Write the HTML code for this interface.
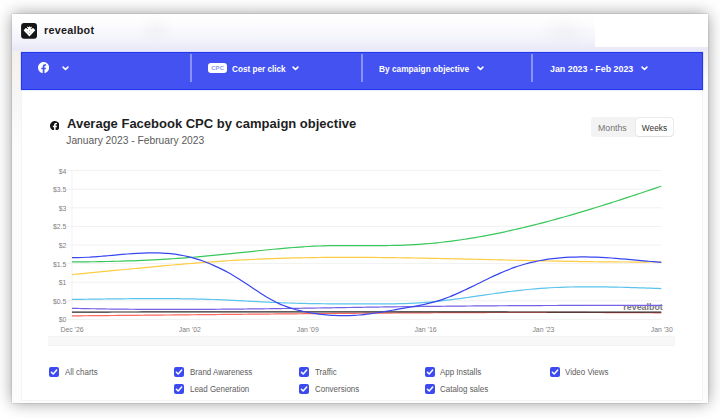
<!DOCTYPE html>
<html><head><meta charset="utf-8"><style>
*{margin:0;padding:0;box-sizing:border-box}
html,body{width:720px;height:418px;overflow:hidden;background:#fff}
body{position:relative;font-family:"Liberation Sans",Arial,sans-serif}
.abs{position:absolute}
.card{position:absolute;left:12px;top:14px;width:696px;height:388.5px;background:#fcfcfc;
 box-shadow:0 0 1.5px rgba(0,0,0,.25),0 0 15px rgba(0,0,0,.40);}
.hdr{position:absolute;left:12px;top:14px;width:696px;height:37.5px;background:linear-gradient(#fff 0%,#fcfcfe 30%,#f1f1fa 75%,#e8e8f8 94%,#f2f2fb 100%)}
.hdrw{position:absolute;left:595px;top:14px;width:113px;height:33px;background:#fff}
.blob{position:absolute;border-radius:50%;background:radial-gradient(closest-side,rgba(0,0,0,.028),rgba(0,0,0,0))}
.side{position:absolute;left:12px;top:51px;width:9px;height:90px;background:linear-gradient(#f3efec,#fcfcfc)}
.panel{position:absolute;left:21px;top:90px;width:681.5px;height:310.5px;background:#fff;border:1px solid #f4f4f4;border-top:none}
.bar{position:absolute;left:21px;top:51.5px;width:681.5px;height:38.8px;background:#4452f1;border:1px solid #2238ec;box-shadow:0 0 1.2px rgba(30,50,236,.5)}
.div{position:absolute;top:54px;width:2px;height:28.2px;background:#8a93f4}
.nt{position:absolute;color:#fff;font-weight:bold;font-size:9.4px;white-space:nowrap;line-height:1;transform-origin:0 0}
.cpc{position:absolute;left:208px;top:62.7px;width:19.3px;height:10.6px;background:#fff;border-radius:3px;color:#8f99f2;font-size:6px;line-height:10.6px;font-weight:bold;text-align:center;letter-spacing:0.1px}
.logo{position:absolute;left:21px;top:23px}
.brand{position:absolute;left:44px;top:24.9px;font-size:10.8px;letter-spacing:0.25px;font-weight:bold;color:#1b1b1b;line-height:1}
.title{position:absolute;left:67px;top:117px;font-size:13px;font-weight:bold;color:#1e1e1e;line-height:1;white-space:nowrap}
.sub{position:absolute;left:66.3px;top:136px;font-size:10.25px;color:#5a5a5a;line-height:1;white-space:nowrap}
.tog{position:absolute;left:591px;top:117px;width:82.5px;height:20px;background:#f3f3f3;border-radius:4px}
.togw{position:absolute;left:635.8px;top:118.3px;width:37px;height:17.4px;background:#fff;border-radius:3.5px;box-shadow:0 0 0 0.6px #e4e4e4,0 0.5px 1px rgba(0,0,0,.08)}
.tt{position:absolute;font-size:8.5px;line-height:1;white-space:nowrap}
.chart{position:absolute;left:0;top:0}
.cb{position:absolute;width:10px;height:10px;line-height:0}
.lt{position:absolute;font-size:8.4px;color:#5c5c5c;line-height:10px;white-space:nowrap;transform:scaleX(0.95);transform-origin:0 0}
</style></head><body>
<div class="card"></div>
<div class="hdr"></div>
<div class="hdrw"></div>
<div class="side"></div>
<div class="abs" style="left:702.5px;top:51px;width:5.5px;height:24px;background:linear-gradient(#f3efec,#fbfbfb)"></div>
<div class="blob" style="left:136px;top:14px;width:40px;height:30px"></div>
<div class="blob" style="left:538px;top:14px;width:54px;height:34px"></div>
<div class="panel"></div>
<div class="logo"><svg width="16" height="16" viewBox="0 0 16 16"><rect x="0.1" y="0.1" width="15.9" height="15.7" rx="3" fill="#161616"/>
<path d="M2.6 7.4 L4.6 5.1 L5.7 5.6 L6.5 3.5 L7.6 4.3 L8.47 3.2 L9.35 4.3 L10.4 3.5 L11.2 5.6 L12.3 5.1 L14.3 7.3 L8.47 13.4 Z" fill="#fff"/>
<g fill="#161616"><path d="M6.5 4.75 L7.15 5.45 L6.5 6.15 L5.85 5.45 Z"/><path d="M10.3 4.75 L10.95 5.45 L10.3 6.15 L9.65 5.45 Z"/></g>
<g fill="#5a5a5a"><path d="M8.47 6.75 L9.05 7.3 L8.47 7.85 L7.9 7.3 Z"/><path d="M8.47 10 L9 10.55 L8.47 11.1 L7.95 10.55 Z"/></g>
<g fill="#9a9a9a"><path d="M6.5 8.35 L7 8.9 L6.5 9.45 L6 8.9 Z"/><path d="M10 8.35 L10.5 8.9 L10 9.45 L9.5 8.9 Z"/></g></svg></div>
<div class="brand">revealbot</div>
<div class="bar"></div>
<div class="div" style="left:189.8px"></div>
<div class="div" style="left:360.6px"></div>
<div class="div" style="left:531px"></div>
<div class="abs" style="left:37.9px;top:62.3px;line-height:0"><svg width="11.2" height="11.2" viewBox="0 0 24 24"><path d="M24 12.073C24 5.405 18.627 0 12 0S0 5.405 0 12.073C0 18.1 4.388 23.094 10.125 24v-8.437H7.078v-3.49h3.047V9.413c0-3.026 1.792-4.697 4.533-4.697 1.312 0 2.686.236 2.686.236v2.971H15.83c-1.491 0-1.956.93-1.956 1.886v2.264h3.328l-.532 3.49h-2.796V24C19.612 23.094 24 18.1 24 12.073z" fill="#fff"/></svg></div>
<div class="abs" style="left:62.4px;top:65.7px;line-height:0"><svg width="7" height="5" viewBox="0 0 7 5"><path d="M1.1 1.1 L3.5 3.5 L5.9 1.1" stroke="#fff" stroke-width="1.6" fill="none" stroke-linecap="round" stroke-linejoin="round"/></svg></div>
<div class="cpc">CPC</div>
<div class="nt" style="left:232.2px;top:63.6px;transform:scaleX(0.873)">Cost per click</div>
<div class="abs" style="left:292.2px;top:65.8px;line-height:0"><svg width="7" height="5" viewBox="0 0 7 5"><path d="M1.1 1.1 L3.5 3.5 L5.9 1.1" stroke="#fff" stroke-width="1.6" fill="none" stroke-linecap="round" stroke-linejoin="round"/></svg></div>
<div class="nt" style="left:378.5px;top:63.6px;transform:scaleX(0.886)">By campaign objective</div>
<div class="abs" style="left:477px;top:65.5px;line-height:0"><svg width="7" height="5" viewBox="0 0 7 5"><path d="M1.1 1.1 L3.5 3.5 L5.9 1.1" stroke="#fff" stroke-width="1.6" fill="none" stroke-linecap="round" stroke-linejoin="round"/></svg></div>
<div class="nt" style="left:549.8px;top:63.6px;transform:scaleX(0.945)">Jan 2023 - Feb 2023</div>
<div class="abs" style="left:641.4px;top:65.5px;line-height:0"><svg width="7" height="5" viewBox="0 0 7 5"><path d="M1.1 1.1 L3.5 3.5 L5.9 1.1" stroke="#fff" stroke-width="1.6" fill="none" stroke-linecap="round" stroke-linejoin="round"/></svg></div>
<div class="abs" style="left:49.6px;top:120.5px;line-height:0"><svg width="9.7" height="9.7" viewBox="0 0 24 24"><path d="M24 12.073C24 5.405 18.627 0 12 0S0 5.405 0 12.073C0 18.1 4.388 23.094 10.125 24v-8.437H7.078v-3.49h3.047V9.413c0-3.026 1.792-4.697 4.533-4.697 1.312 0 2.686.236 2.686.236v2.971H15.83c-1.491 0-1.956.93-1.956 1.886v2.264h3.328l-.532 3.49h-2.796V24C19.612 23.094 24 18.1 24 12.073z" fill="#141414"/></svg></div>
<div class="title">Average Facebook CPC by campaign objective</div>
<div class="sub">January 2023 - February 2023</div>
<div class="tog"></div>
<div class="togw"></div>
<div class="tt" style="left:598px;top:123.5px;color:#737373;font-size:8.75px">Months</div>
<div class="tt" style="left:641.8px;top:123.6px;color:#303030;font-size:8.35px">Weeks</div>
<svg class="chart" width="720" height="418" viewBox="0 0 720 418">
<g><line x1="67" y1="319.40" x2="661.5" y2="319.40" stroke="#f1f1f1" stroke-width="1"/><line x1="67" y1="300.80" x2="661.5" y2="300.80" stroke="#f1f1f1" stroke-width="1"/><line x1="67" y1="282.20" x2="661.5" y2="282.20" stroke="#f1f1f1" stroke-width="1"/><line x1="67" y1="263.60" x2="661.5" y2="263.60" stroke="#f1f1f1" stroke-width="1"/><line x1="67" y1="245.00" x2="661.5" y2="245.00" stroke="#f1f1f1" stroke-width="1"/><line x1="67" y1="226.40" x2="661.5" y2="226.40" stroke="#f1f1f1" stroke-width="1"/><line x1="67" y1="207.80" x2="661.5" y2="207.80" stroke="#f1f1f1" stroke-width="1"/><line x1="67" y1="189.20" x2="661.5" y2="189.20" stroke="#f1f1f1" stroke-width="1"/><line x1="67" y1="170.60" x2="661.5" y2="170.60" stroke="#f1f1f1" stroke-width="1"/></g>
<line x1="72" y1="170.4" x2="72" y2="319.4" stroke="#f1f1f1" stroke-width="1"/>
<g font-family="Liberation Sans, Arial, sans-serif" font-size="6.9" fill="#808080"><text x="66.3" y="322.30" text-anchor="end">$0</text><text x="66.3" y="303.70" text-anchor="end">$0.5</text><text x="66.3" y="285.10" text-anchor="end">$1</text><text x="66.3" y="266.50" text-anchor="end">$1.5</text><text x="66.3" y="247.90" text-anchor="end">$2</text><text x="66.3" y="229.30" text-anchor="end">$2.5</text><text x="66.3" y="210.70" text-anchor="end">$3</text><text x="66.3" y="192.10" text-anchor="end">$3.5</text><text x="66.3" y="173.50" text-anchor="end">$4</text></g>
<g font-family="Liberation Sans, Arial, sans-serif" font-size="6.9" fill="#808080"><text x="72.00" y="331.9" text-anchor="middle">Dec '26</text><text x="189.86" y="331.9" text-anchor="middle">Jan '02</text><text x="307.72" y="331.9" text-anchor="middle">Jan '09</text><text x="425.58" y="331.9" text-anchor="middle">Jan '16</text><text x="543.44" y="331.9" text-anchor="middle">Jan '23</text><text x="672.8" y="331.9" text-anchor="end">Jan '30</text></g>
<rect x="49" y="336.3" width="625.3" height="9.2" fill="#f8f8f8" stroke="#f0f0f0" stroke-width="0.8"/>
<text x="662.8" y="309.6" text-anchor="end" font-family="Liberation Sans, Arial, sans-serif" font-weight="bold" font-size="8.9" fill="#7a7a7a">revealbot</text>
<g><path d="M72.00,315.86 C72.84,315.85 75.36,315.83 77.04,315.82 C78.72,315.80 80.39,315.79 82.07,315.78 C83.75,315.76 85.43,315.75 87.11,315.73 C88.79,315.72 90.47,315.70 92.15,315.69 C93.83,315.68 95.50,315.66 97.18,315.65 C98.86,315.63 100.54,315.62 102.22,315.60 C103.90,315.59 105.58,315.57 107.26,315.56 C108.94,315.54 110.62,315.53 112.29,315.51 C113.97,315.50 115.65,315.48 117.33,315.47 C119.01,315.45 120.69,315.44 122.37,315.42 C124.05,315.41 125.73,315.39 127.40,315.38 C129.08,315.36 130.76,315.35 132.44,315.33 C134.12,315.32 135.80,315.30 137.48,315.28 C139.16,315.27 140.84,315.25 142.51,315.24 C144.19,315.22 145.87,315.21 147.55,315.19 C149.23,315.18 150.91,315.16 152.59,315.14 C154.27,315.13 155.95,315.11 157.62,315.10 C159.30,315.08 160.98,315.06 162.66,315.05 C164.34,315.03 166.02,315.02 167.70,315.00 C169.38,314.98 171.06,314.97 172.74,314.95 C174.41,314.94 176.09,314.92 177.77,314.90 C179.45,314.89 181.13,314.87 182.81,314.86 C184.49,314.84 186.17,314.82 187.85,314.81 C189.52,314.79 191.20,314.77 192.88,314.76 C194.56,314.74 196.24,314.73 197.92,314.71 C199.60,314.69 201.28,314.68 202.96,314.66 C204.63,314.65 206.31,314.63 207.99,314.61 C209.67,314.60 211.35,314.58 213.03,314.56 C214.71,314.55 216.39,314.53 218.07,314.52 C219.74,314.50 221.42,314.48 223.10,314.47 C224.78,314.45 226.46,314.43 228.14,314.42 C229.82,314.40 231.50,314.39 233.18,314.37 C234.85,314.35 236.53,314.34 238.21,314.32 C239.89,314.31 241.57,314.29 243.25,314.27 C244.93,314.26 246.61,314.24 248.29,314.22 C249.97,314.21 251.64,314.19 253.32,314.18 C255.00,314.16 256.68,314.15 258.36,314.13 C260.04,314.11 261.72,314.10 263.40,314.08 C265.08,314.07 266.75,314.05 268.43,314.03 C270.11,314.02 271.79,314.00 273.47,313.99 C275.15,313.97 276.83,313.96 278.51,313.94 C280.19,313.93 281.86,313.91 283.54,313.89 C285.22,313.88 286.90,313.86 288.58,313.85 C290.26,313.83 291.94,313.82 293.62,313.80 C295.30,313.79 296.97,313.77 298.65,313.76 C300.33,313.74 302.01,313.73 303.69,313.71 C305.37,313.70 307.05,313.68 308.73,313.67 C310.41,313.65 312.09,313.64 313.76,313.62 C315.44,313.61 317.12,313.59 318.80,313.58 C320.48,313.56 322.16,313.55 323.84,313.54 C325.52,313.52 327.20,313.51 328.87,313.49 C330.55,313.48 332.23,313.47 333.91,313.45 C335.59,313.44 337.27,313.42 338.95,313.41 C340.63,313.40 342.31,313.38 343.98,313.37 C345.66,313.35 347.34,313.34 349.02,313.33 C350.70,313.31 352.38,313.30 354.06,313.29 C355.74,313.27 357.42,313.26 359.09,313.25 C360.77,313.24 362.45,313.22 364.13,313.21 C365.81,313.20 367.49,313.18 369.17,313.17 C370.85,313.16 372.53,313.15 374.21,313.13 C375.88,313.12 377.56,313.11 379.24,313.10 C380.92,313.09 382.60,313.07 384.28,313.06 C385.96,313.05 387.64,313.04 389.32,313.03 C390.99,313.02 392.67,313.00 394.35,312.99 C396.03,312.98 397.71,312.97 399.39,312.96 C401.07,312.95 402.75,312.94 404.43,312.93 C406.10,312.92 407.78,312.90 409.46,312.89 C411.14,312.88 412.82,312.87 414.50,312.86 C416.18,312.85 417.86,312.84 419.54,312.83 C421.21,312.82 422.89,312.81 424.57,312.80 C426.25,312.79 427.93,312.78 429.61,312.78 C431.29,312.77 432.97,312.76 434.65,312.75 C436.33,312.74 438.00,312.73 439.68,312.72 C441.36,312.71 443.04,312.70 444.72,312.70 C446.40,312.69 448.08,312.68 449.76,312.67 C451.44,312.66 453.11,312.66 454.79,312.65 C456.47,312.64 458.15,312.63 459.83,312.63 C461.51,312.62 463.19,312.61 464.87,312.60 C466.55,312.60 468.22,312.59 469.90,312.58 C471.58,312.58 473.26,312.57 474.94,312.57 C476.62,312.56 478.30,312.55 479.98,312.55 C481.66,312.54 483.33,312.54 485.01,312.53 C486.69,312.53 488.37,312.52 490.05,312.51 C491.73,312.51 493.41,312.51 495.09,312.50 C496.77,312.50 498.45,312.49 500.12,312.49 C501.80,312.48 503.48,312.48 505.16,312.48 C506.84,312.47 508.52,312.47 510.20,312.46 C511.88,312.46 513.56,312.46 515.23,312.46 C516.91,312.45 518.59,312.45 520.27,312.45 C521.95,312.44 523.63,312.44 525.31,312.44 C526.99,312.44 528.67,312.44 530.34,312.44 C532.02,312.43 533.70,312.43 535.38,312.43 C537.06,312.43 538.74,312.43 540.42,312.43 C542.10,312.43 543.78,312.43 545.45,312.43 C547.13,312.43 548.81,312.43 550.49,312.43 C552.17,312.43 553.85,312.43 555.53,312.43 C557.21,312.43 558.89,312.43 560.56,312.43 C562.24,312.43 563.92,312.44 565.60,312.44 C567.28,312.44 568.96,312.44 570.64,312.44 C572.32,312.45 574.00,312.45 575.68,312.45 C577.35,312.45 579.03,312.46 580.71,312.46 C582.39,312.46 584.07,312.47 585.75,312.47 C587.43,312.48 589.11,312.48 590.79,312.48 C592.46,312.49 594.14,312.49 595.82,312.50 C597.50,312.50 599.18,312.51 600.86,312.51 C602.54,312.52 604.22,312.53 605.90,312.53 C607.57,312.54 609.25,312.54 610.93,312.55 C612.61,312.56 614.29,312.56 615.97,312.57 C617.65,312.58 619.33,312.59 621.01,312.59 C622.68,312.60 624.36,312.61 626.04,312.62 C627.72,312.63 629.40,312.64 631.08,312.65 C632.76,312.65 634.44,312.66 636.12,312.67 C637.80,312.68 639.47,312.69 641.15,312.70 C642.83,312.71 644.51,312.72 646.19,312.73 C647.87,312.75 649.55,312.76 651.23,312.77 C652.91,312.78 654.58,312.79 656.26,312.80 C657.94,312.82 660.46,312.84 661.30,312.84" stroke="#ff665c" stroke-width="1.2" fill="none" stroke-linecap="butt" stroke-linejoin="round"/><path d="M72.00,312.11 C72.84,312.10 75.36,312.10 77.04,312.09 C78.72,312.09 80.39,312.09 82.07,312.08 C83.75,312.08 85.43,312.08 87.11,312.07 C88.79,312.07 90.47,312.07 92.15,312.06 C93.83,312.06 95.50,312.06 97.18,312.05 C98.86,312.05 100.54,312.05 102.22,312.04 C103.90,312.04 105.58,312.04 107.26,312.03 C108.94,312.03 110.62,312.03 112.29,312.02 C113.97,312.02 115.65,312.02 117.33,312.01 C119.01,312.01 120.69,312.01 122.37,312.00 C124.05,312.00 125.73,312.00 127.40,312.00 C129.08,311.99 130.76,311.99 132.44,311.99 C134.12,311.99 135.80,311.98 137.48,311.98 C139.16,311.98 140.84,311.97 142.51,311.97 C144.19,311.97 145.87,311.97 147.55,311.96 C149.23,311.96 150.91,311.96 152.59,311.96 C154.27,311.95 155.95,311.95 157.62,311.95 C159.30,311.95 160.98,311.95 162.66,311.94 C164.34,311.94 166.02,311.94 167.70,311.94 C169.38,311.93 171.06,311.93 172.74,311.93 C174.41,311.93 176.09,311.93 177.77,311.92 C179.45,311.92 181.13,311.92 182.81,311.92 C184.49,311.92 186.17,311.91 187.85,311.91 C189.52,311.91 191.20,311.91 192.88,311.91 C194.56,311.91 196.24,311.90 197.92,311.90 C199.60,311.90 201.28,311.90 202.96,311.90 C204.63,311.90 206.31,311.89 207.99,311.89 C209.67,311.89 211.35,311.89 213.03,311.89 C214.71,311.89 216.39,311.89 218.07,311.88 C219.74,311.88 221.42,311.88 223.10,311.88 C224.78,311.88 226.46,311.88 228.14,311.88 C229.82,311.88 231.50,311.87 233.18,311.87 C234.85,311.87 236.53,311.87 238.21,311.87 C239.89,311.87 241.57,311.87 243.25,311.87 C244.93,311.87 246.61,311.87 248.29,311.86 C249.97,311.86 251.64,311.86 253.32,311.86 C255.00,311.86 256.68,311.86 258.36,311.86 C260.04,311.86 261.72,311.86 263.40,311.86 C265.08,311.86 266.75,311.86 268.43,311.86 C270.11,311.85 271.79,311.85 273.47,311.85 C275.15,311.85 276.83,311.85 278.51,311.85 C280.19,311.85 281.86,311.85 283.54,311.85 C285.22,311.85 286.90,311.85 288.58,311.85 C290.26,311.85 291.94,311.85 293.62,311.85 C295.30,311.85 296.97,311.85 298.65,311.85 C300.33,311.85 302.01,311.85 303.69,311.85 C305.37,311.85 307.05,311.85 308.73,311.85 C310.41,311.85 312.09,311.85 313.76,311.85 C315.44,311.85 317.12,311.85 318.80,311.85 C320.48,311.85 322.16,311.85 323.84,311.85 C325.52,311.85 327.20,311.85 328.87,311.85 C330.55,311.85 332.23,311.85 333.91,311.85 C335.59,311.85 337.27,311.85 338.95,311.85 C340.63,311.85 342.31,311.85 343.98,311.85 C345.66,311.85 347.34,311.85 349.02,311.85 C350.70,311.85 352.38,311.85 354.06,311.85 C355.74,311.85 357.42,311.85 359.09,311.86 C360.77,311.86 362.45,311.86 364.13,311.86 C365.81,311.86 367.49,311.86 369.17,311.86 C370.85,311.86 372.53,311.86 374.21,311.86 C375.88,311.86 377.56,311.86 379.24,311.86 C380.92,311.86 382.60,311.86 384.28,311.87 C385.96,311.87 387.64,311.87 389.32,311.87 C390.99,311.87 392.67,311.87 394.35,311.87 C396.03,311.87 397.71,311.87 399.39,311.87 C401.07,311.87 402.75,311.88 404.43,311.88 C406.10,311.88 407.78,311.88 409.46,311.88 C411.14,311.88 412.82,311.88 414.50,311.88 C416.18,311.88 417.86,311.89 419.54,311.89 C421.21,311.89 422.89,311.89 424.57,311.89 C426.25,311.89 427.93,311.89 429.61,311.89 C431.29,311.90 432.97,311.90 434.65,311.90 C436.33,311.90 438.00,311.90 439.68,311.90 C441.36,311.90 443.04,311.91 444.72,311.91 C446.40,311.91 448.08,311.91 449.76,311.91 C451.44,311.91 453.11,311.92 454.79,311.92 C456.47,311.92 458.15,311.92 459.83,311.92 C461.51,311.92 463.19,311.92 464.87,311.93 C466.55,311.93 468.22,311.93 469.90,311.93 C471.58,311.93 473.26,311.93 474.94,311.94 C476.62,311.94 478.30,311.94 479.98,311.94 C481.66,311.94 483.33,311.95 485.01,311.95 C486.69,311.95 488.37,311.95 490.05,311.95 C491.73,311.95 493.41,311.96 495.09,311.96 C496.77,311.96 498.45,311.96 500.12,311.96 C501.80,311.97 503.48,311.97 505.16,311.97 C506.84,311.97 508.52,311.97 510.20,311.98 C511.88,311.98 513.56,311.98 515.23,311.98 C516.91,311.98 518.59,311.99 520.27,311.99 C521.95,311.99 523.63,311.99 525.31,312.00 C526.99,312.00 528.67,312.00 530.34,312.00 C532.02,312.00 533.70,312.01 535.38,312.01 C537.06,312.01 538.74,312.01 540.42,312.02 C542.10,312.02 543.78,312.02 545.45,312.02 C547.13,312.02 548.81,312.03 550.49,312.03 C552.17,312.03 553.85,312.03 555.53,312.04 C557.21,312.04 558.89,312.04 560.56,312.04 C562.24,312.05 563.92,312.05 565.60,312.05 C567.28,312.05 568.96,312.06 570.64,312.06 C572.32,312.06 574.00,312.06 575.68,312.07 C577.35,312.07 579.03,312.07 580.71,312.07 C582.39,312.08 584.07,312.08 585.75,312.08 C587.43,312.08 589.11,312.09 590.79,312.09 C592.46,312.09 594.14,312.09 595.82,312.10 C597.50,312.10 599.18,312.10 600.86,312.11 C602.54,312.11 604.22,312.11 605.90,312.11 C607.57,312.12 609.25,312.12 610.93,312.12 C612.61,312.12 614.29,312.13 615.97,312.13 C617.65,312.13 619.33,312.13 621.01,312.14 C622.68,312.14 624.36,312.14 626.04,312.15 C627.72,312.15 629.40,312.15 631.08,312.15 C632.76,312.16 634.44,312.16 636.12,312.16 C637.80,312.17 639.47,312.17 641.15,312.17 C642.83,312.17 644.51,312.18 646.19,312.18 C647.87,312.18 649.55,312.19 651.23,312.19 C652.91,312.19 654.58,312.20 656.26,312.20 C657.94,312.20 660.46,312.21 661.30,312.21" stroke="#2a2a2a" stroke-width="1.2" fill="none" stroke-linecap="butt" stroke-linejoin="round"/><path d="M72.00,308.30 C72.84,308.32 75.36,308.38 77.04,308.42 C78.72,308.46 80.39,308.49 82.07,308.53 C83.75,308.56 85.43,308.60 87.11,308.63 C88.79,308.67 90.47,308.70 92.15,308.73 C93.83,308.76 95.50,308.79 97.18,308.82 C98.86,308.85 100.54,308.87 102.22,308.90 C103.90,308.93 105.58,308.95 107.26,308.98 C108.94,309.00 110.62,309.02 112.29,309.05 C113.97,309.07 115.65,309.09 117.33,309.11 C119.01,309.13 120.69,309.15 122.37,309.17 C124.05,309.18 125.73,309.20 127.40,309.22 C129.08,309.23 130.76,309.25 132.44,309.26 C134.12,309.28 135.80,309.29 137.48,309.30 C139.16,309.31 140.84,309.33 142.51,309.34 C144.19,309.35 145.87,309.36 147.55,309.36 C149.23,309.37 150.91,309.38 152.59,309.39 C154.27,309.39 155.95,309.40 157.62,309.40 C159.30,309.41 160.98,309.41 162.66,309.42 C164.34,309.42 166.02,309.42 167.70,309.42 C169.38,309.43 171.06,309.43 172.74,309.43 C174.41,309.43 176.09,309.43 177.77,309.43 C179.45,309.42 181.13,309.42 182.81,309.42 C184.49,309.42 186.17,309.41 187.85,309.41 C189.52,309.40 191.20,309.40 192.88,309.39 C194.56,309.39 196.24,309.38 197.92,309.37 C199.60,309.36 201.28,309.36 202.96,309.35 C204.63,309.34 206.31,309.33 207.99,309.32 C209.67,309.31 211.35,309.30 213.03,309.29 C214.71,309.28 216.39,309.27 218.07,309.25 C219.74,309.24 221.42,309.23 223.10,309.21 C224.78,309.20 226.46,309.19 228.14,309.17 C229.82,309.16 231.50,309.14 233.18,309.13 C234.85,309.11 236.53,309.10 238.21,309.08 C239.89,309.06 241.57,309.04 243.25,309.03 C244.93,309.01 246.61,308.99 248.29,308.97 C249.97,308.95 251.64,308.93 253.32,308.92 C255.00,308.90 256.68,308.88 258.36,308.86 C260.04,308.84 261.72,308.81 263.40,308.79 C265.08,308.77 266.75,308.75 268.43,308.73 C270.11,308.71 271.79,308.68 273.47,308.66 C275.15,308.64 276.83,308.62 278.51,308.59 C280.19,308.57 281.86,308.55 283.54,308.52 C285.22,308.50 286.90,308.47 288.58,308.45 C290.26,308.42 291.94,308.40 293.62,308.37 C295.30,308.35 296.97,308.32 298.65,308.30 C300.33,308.27 302.01,308.25 303.69,308.22 C305.37,308.20 307.05,308.17 308.73,308.14 C310.41,308.12 312.09,308.09 313.76,308.06 C315.44,308.04 317.12,308.01 318.80,307.98 C320.48,307.96 322.16,307.93 323.84,307.90 C325.52,307.88 327.20,307.85 328.87,307.82 C330.55,307.79 332.23,307.77 333.91,307.74 C335.59,307.71 337.27,307.69 338.95,307.66 C340.63,307.63 342.31,307.61 343.98,307.58 C345.66,307.55 347.34,307.52 349.02,307.50 C350.70,307.47 352.38,307.44 354.06,307.42 C355.74,307.39 357.42,307.36 359.09,307.34 C360.77,307.31 362.45,307.29 364.13,307.26 C365.81,307.23 367.49,307.21 369.17,307.18 C370.85,307.16 372.53,307.13 374.21,307.11 C375.88,307.08 377.56,307.06 379.24,307.03 C380.92,307.01 382.60,306.99 384.28,306.96 C385.96,306.94 387.64,306.91 389.32,306.89 C390.99,306.87 392.67,306.85 394.35,306.82 C396.03,306.80 397.71,306.78 399.39,306.76 C401.07,306.73 402.75,306.71 404.43,306.69 C406.10,306.67 407.78,306.65 409.46,306.63 C411.14,306.61 412.82,306.59 414.50,306.57 C416.18,306.55 417.86,306.53 419.54,306.51 C421.21,306.49 422.89,306.47 424.57,306.45 C426.25,306.43 427.93,306.41 429.61,306.39 C431.29,306.37 432.97,306.35 434.65,306.34 C436.33,306.32 438.00,306.30 439.68,306.28 C441.36,306.27 443.04,306.25 444.72,306.23 C446.40,306.21 448.08,306.20 449.76,306.18 C451.44,306.17 453.11,306.15 454.79,306.13 C456.47,306.12 458.15,306.10 459.83,306.09 C461.51,306.07 463.19,306.06 464.87,306.04 C466.55,306.03 468.22,306.01 469.90,306.00 C471.58,305.98 473.26,305.97 474.94,305.96 C476.62,305.94 478.30,305.93 479.98,305.92 C481.66,305.90 483.33,305.89 485.01,305.88 C486.69,305.86 488.37,305.85 490.05,305.84 C491.73,305.83 493.41,305.81 495.09,305.80 C496.77,305.79 498.45,305.78 500.12,305.77 C501.80,305.76 503.48,305.75 505.16,305.73 C506.84,305.72 508.52,305.71 510.20,305.70 C511.88,305.69 513.56,305.68 515.23,305.67 C516.91,305.66 518.59,305.65 520.27,305.64 C521.95,305.64 523.63,305.63 525.31,305.62 C526.99,305.61 528.67,305.60 530.34,305.59 C532.02,305.58 533.70,305.57 535.38,305.57 C537.06,305.56 538.74,305.55 540.42,305.54 C542.10,305.54 543.78,305.53 545.45,305.52 C547.13,305.51 548.81,305.51 550.49,305.50 C552.17,305.49 553.85,305.49 555.53,305.48 C557.21,305.48 558.89,305.47 560.56,305.46 C562.24,305.46 563.92,305.45 565.60,305.45 C567.28,305.44 568.96,305.44 570.64,305.43 C572.32,305.43 574.00,305.42 575.68,305.42 C577.35,305.41 579.03,305.41 580.71,305.41 C582.39,305.40 584.07,305.40 585.75,305.39 C587.43,305.39 589.11,305.39 590.79,305.38 C592.46,305.38 594.14,305.38 595.82,305.37 C597.50,305.37 599.18,305.37 600.86,305.37 C602.54,305.36 604.22,305.36 605.90,305.36 C607.57,305.36 609.25,305.36 610.93,305.35 C612.61,305.35 614.29,305.35 615.97,305.35 C617.65,305.35 619.33,305.35 621.01,305.35 C622.68,305.35 624.36,305.35 626.04,305.34 C627.72,305.34 629.40,305.34 631.08,305.34 C632.76,305.34 634.44,305.34 636.12,305.34 C637.80,305.34 639.47,305.34 641.15,305.35 C642.83,305.35 644.51,305.35 646.19,305.35 C647.87,305.35 649.55,305.35 651.23,305.35 C652.91,305.35 654.58,305.35 656.26,305.36 C657.94,305.36 660.46,305.36 661.30,305.36" stroke="#7462e4" stroke-width="1.2" fill="none" stroke-linecap="butt" stroke-linejoin="round"/><path d="M72.00,299.46 C72.84,299.45 75.36,299.41 77.04,299.39 C78.72,299.36 80.39,299.34 82.07,299.31 C83.75,299.29 85.43,299.27 87.11,299.24 C88.79,299.22 90.47,299.19 92.15,299.17 C93.83,299.15 95.50,299.12 97.18,299.10 C98.86,299.07 100.54,299.05 102.22,299.03 C103.90,299.01 105.58,298.98 107.26,298.96 C108.94,298.94 110.62,298.92 112.29,298.90 C113.97,298.88 115.65,298.86 117.33,298.84 C119.01,298.82 120.69,298.80 122.37,298.78 C124.05,298.76 125.73,298.75 127.40,298.73 C129.08,298.71 130.76,298.70 132.44,298.69 C134.12,298.67 135.80,298.66 137.48,298.65 C139.16,298.64 140.84,298.63 142.51,298.62 C144.19,298.61 145.87,298.61 147.55,298.60 C149.23,298.60 150.91,298.59 152.59,298.59 C154.27,298.59 155.95,298.59 157.62,298.59 C159.30,298.59 160.98,298.60 162.66,298.60 C164.34,298.61 166.02,298.62 167.70,298.63 C169.38,298.64 171.06,298.65 172.74,298.66 C174.41,298.68 176.09,298.69 177.77,298.71 C179.45,298.73 181.13,298.75 182.81,298.78 C184.49,298.80 186.17,298.83 187.85,298.85 C189.52,298.88 191.20,298.92 192.88,298.95 C194.56,298.98 196.24,299.02 197.92,299.06 C199.60,299.10 201.28,299.14 202.96,299.19 C204.63,299.24 206.31,299.28 207.99,299.34 C209.67,299.39 211.35,299.44 213.03,299.50 C214.71,299.56 216.39,299.62 218.07,299.69 C219.74,299.75 221.42,299.82 223.10,299.90 C224.78,299.97 226.46,300.04 228.14,300.12 C229.82,300.20 231.50,300.28 233.18,300.36 C234.85,300.44 236.53,300.53 238.21,300.61 C239.89,300.70 241.57,300.79 243.25,300.87 C244.93,300.96 246.61,301.05 248.29,301.14 C249.97,301.23 251.64,301.32 253.32,301.40 C255.00,301.49 256.68,301.58 258.36,301.67 C260.04,301.75 261.72,301.84 263.40,301.92 C265.08,302.01 266.75,302.09 268.43,302.17 C270.11,302.25 271.79,302.33 273.47,302.41 C275.15,302.48 276.83,302.56 278.51,302.63 C280.19,302.70 281.86,302.76 283.54,302.82 C285.22,302.89 286.90,302.95 288.58,303.00 C290.26,303.06 291.94,303.11 293.62,303.16 C295.30,303.21 296.97,303.26 298.65,303.30 C300.33,303.35 302.01,303.39 303.69,303.43 C305.37,303.47 307.05,303.50 308.73,303.53 C310.41,303.57 312.09,303.60 313.76,303.63 C315.44,303.66 317.12,303.68 318.80,303.71 C320.48,303.73 322.16,303.75 323.84,303.77 C325.52,303.79 327.20,303.81 328.87,303.83 C330.55,303.84 332.23,303.86 333.91,303.87 C335.59,303.88 337.27,303.89 338.95,303.90 C340.63,303.91 342.31,303.92 343.98,303.93 C345.66,303.94 347.34,303.94 349.02,303.95 C350.70,303.95 352.38,303.96 354.06,303.96 C355.74,303.96 357.42,303.96 359.09,303.96 C360.77,303.97 362.45,303.97 364.13,303.97 C365.81,303.97 367.49,303.97 369.17,303.97 C370.85,303.96 372.53,303.96 374.21,303.96 C375.88,303.96 377.56,303.96 379.24,303.95 C380.92,303.94 382.60,303.94 384.28,303.92 C385.96,303.91 387.64,303.90 389.32,303.88 C390.99,303.86 392.67,303.84 394.35,303.81 C396.03,303.78 397.71,303.75 399.39,303.70 C401.07,303.66 402.75,303.62 404.43,303.56 C406.10,303.51 407.78,303.44 409.46,303.37 C411.14,303.30 412.82,303.22 414.50,303.13 C416.18,303.04 417.86,302.94 419.54,302.83 C421.21,302.72 422.89,302.60 424.57,302.47 C426.25,302.34 427.93,302.20 429.61,302.05 C431.29,301.90 432.97,301.74 434.65,301.57 C436.33,301.40 438.00,301.22 439.68,301.04 C441.36,300.86 443.04,300.67 444.72,300.47 C446.40,300.27 448.08,300.07 449.76,299.86 C451.44,299.65 453.11,299.43 454.79,299.21 C456.47,299.00 458.15,298.77 459.83,298.54 C461.51,298.32 463.19,298.08 464.87,297.85 C466.55,297.61 468.22,297.38 469.90,297.14 C471.58,296.90 473.26,296.66 474.94,296.41 C476.62,296.17 478.30,295.93 479.98,295.69 C481.66,295.44 483.33,295.20 485.01,294.96 C486.69,294.71 488.37,294.47 490.05,294.23 C491.73,293.99 493.41,293.75 495.09,293.51 C496.77,293.28 498.45,293.04 500.12,292.82 C501.80,292.59 503.48,292.36 505.16,292.14 C506.84,291.91 508.52,291.70 510.20,291.48 C511.88,291.27 513.56,291.06 515.23,290.86 C516.91,290.66 518.59,290.47 520.27,290.28 C521.95,290.09 523.63,289.91 525.31,289.74 C526.99,289.56 528.67,289.40 530.34,289.24 C532.02,289.09 533.70,288.94 535.38,288.80 C537.06,288.66 538.74,288.53 540.42,288.41 C542.10,288.29 543.78,288.18 545.45,288.07 C547.13,287.96 548.81,287.86 550.49,287.77 C552.17,287.68 553.85,287.60 555.53,287.52 C557.21,287.44 558.89,287.37 560.56,287.31 C562.24,287.25 563.92,287.19 565.60,287.14 C567.28,287.09 568.96,287.05 570.64,287.01 C572.32,286.97 574.00,286.94 575.68,286.91 C577.35,286.88 579.03,286.86 580.71,286.85 C582.39,286.83 584.07,286.82 585.75,286.81 C587.43,286.81 589.11,286.81 590.79,286.81 C592.46,286.81 594.14,286.82 595.82,286.83 C597.50,286.84 599.18,286.86 600.86,286.88 C602.54,286.90 604.22,286.92 605.90,286.95 C607.57,286.97 609.25,287.00 610.93,287.04 C612.61,287.07 614.29,287.11 615.97,287.14 C617.65,287.18 619.33,287.22 621.01,287.27 C622.68,287.31 624.36,287.36 626.04,287.40 C627.72,287.45 629.40,287.50 631.08,287.55 C632.76,287.60 634.44,287.65 636.12,287.71 C637.80,287.76 639.47,287.81 641.15,287.87 C642.83,287.93 644.51,287.98 646.19,288.04 C647.87,288.10 649.55,288.15 651.23,288.21 C652.91,288.27 654.58,288.32 656.26,288.38 C657.94,288.44 660.46,288.52 661.30,288.55" stroke="#5ac4ec" stroke-width="1.2" fill="none" stroke-linecap="butt" stroke-linejoin="round"/><path d="M72.00,274.57 C72.84,274.49 75.36,274.26 77.04,274.10 C78.72,273.94 80.39,273.78 82.07,273.62 C83.75,273.46 85.43,273.30 87.11,273.14 C88.79,272.98 90.47,272.82 92.15,272.66 C93.83,272.50 95.50,272.34 97.18,272.18 C98.86,272.01 100.54,271.85 102.22,271.69 C103.90,271.53 105.58,271.36 107.26,271.20 C108.94,271.04 110.62,270.87 112.29,270.71 C113.97,270.55 115.65,270.38 117.33,270.22 C119.01,270.06 120.69,269.90 122.37,269.73 C124.05,269.57 125.73,269.41 127.40,269.24 C129.08,269.08 130.76,268.92 132.44,268.76 C134.12,268.60 135.80,268.44 137.48,268.28 C139.16,268.12 140.84,267.96 142.51,267.80 C144.19,267.64 145.87,267.48 147.55,267.32 C149.23,267.16 150.91,267.01 152.59,266.85 C154.27,266.69 155.95,266.54 157.62,266.38 C159.30,266.23 160.98,266.07 162.66,265.92 C164.34,265.77 166.02,265.62 167.70,265.47 C169.38,265.32 171.06,265.17 172.74,265.02 C174.41,264.87 176.09,264.73 177.77,264.58 C179.45,264.44 181.13,264.29 182.81,264.15 C184.49,264.01 186.17,263.87 187.85,263.73 C189.52,263.59 191.20,263.45 192.88,263.32 C194.56,263.18 196.24,263.05 197.92,262.92 C199.60,262.78 201.28,262.65 202.96,262.52 C204.63,262.40 206.31,262.27 207.99,262.15 C209.67,262.02 211.35,261.90 213.03,261.78 C214.71,261.66 216.39,261.54 218.07,261.42 C219.74,261.31 221.42,261.20 223.10,261.08 C224.78,260.97 226.46,260.86 228.14,260.76 C229.82,260.65 231.50,260.55 233.18,260.45 C234.85,260.35 236.53,260.25 238.21,260.15 C239.89,260.06 241.57,259.96 243.25,259.87 C244.93,259.78 246.61,259.69 248.29,259.61 C249.97,259.52 251.64,259.44 253.32,259.36 C255.00,259.28 256.68,259.21 258.36,259.13 C260.04,259.06 261.72,258.99 263.40,258.92 C265.08,258.85 266.75,258.79 268.43,258.72 C270.11,258.66 271.79,258.60 273.47,258.54 C275.15,258.48 276.83,258.43 278.51,258.37 C280.19,258.32 281.86,258.27 283.54,258.22 C285.22,258.17 286.90,258.13 288.58,258.08 C290.26,258.04 291.94,258.00 293.62,257.96 C295.30,257.92 296.97,257.88 298.65,257.84 C300.33,257.81 302.01,257.77 303.69,257.74 C305.37,257.71 307.05,257.68 308.73,257.66 C310.41,257.63 312.09,257.60 313.76,257.58 C315.44,257.56 317.12,257.54 318.80,257.52 C320.48,257.50 322.16,257.48 323.84,257.47 C325.52,257.45 327.20,257.44 328.87,257.42 C330.55,257.41 332.23,257.40 333.91,257.39 C335.59,257.38 337.27,257.38 338.95,257.37 C340.63,257.37 342.31,257.36 343.98,257.36 C345.66,257.36 347.34,257.36 349.02,257.36 C350.70,257.36 352.38,257.36 354.06,257.37 C355.74,257.37 357.42,257.38 359.09,257.38 C360.77,257.39 362.45,257.40 364.13,257.40 C365.81,257.41 367.49,257.42 369.17,257.44 C370.85,257.45 372.53,257.46 374.21,257.47 C375.88,257.49 377.56,257.50 379.24,257.52 C380.92,257.54 382.60,257.55 384.28,257.57 C385.96,257.59 387.64,257.61 389.32,257.63 C390.99,257.65 392.67,257.67 394.35,257.69 C396.03,257.71 397.71,257.74 399.39,257.76 C401.07,257.78 402.75,257.81 404.43,257.84 C406.10,257.86 407.78,257.89 409.46,257.91 C411.14,257.94 412.82,257.97 414.50,258.00 C416.18,258.03 417.86,258.06 419.54,258.09 C421.21,258.12 422.89,258.15 424.57,258.18 C426.25,258.21 427.93,258.24 429.61,258.28 C431.29,258.31 432.97,258.34 434.65,258.38 C436.33,258.41 438.00,258.44 439.68,258.48 C441.36,258.51 443.04,258.55 444.72,258.59 C446.40,258.62 448.08,258.66 449.76,258.70 C451.44,258.73 453.11,258.77 454.79,258.81 C456.47,258.84 458.15,258.88 459.83,258.92 C461.51,258.96 463.19,259.00 464.87,259.04 C466.55,259.07 468.22,259.11 469.90,259.15 C471.58,259.19 473.26,259.23 474.94,259.27 C476.62,259.31 478.30,259.35 479.98,259.39 C481.66,259.43 483.33,259.47 485.01,259.51 C486.69,259.55 488.37,259.59 490.05,259.63 C491.73,259.67 493.41,259.71 495.09,259.75 C496.77,259.79 498.45,259.83 500.12,259.87 C501.80,259.91 503.48,259.95 505.16,259.99 C506.84,260.03 508.52,260.07 510.20,260.11 C511.88,260.15 513.56,260.19 515.23,260.23 C516.91,260.27 518.59,260.31 520.27,260.35 C521.95,260.39 523.63,260.43 525.31,260.46 C526.99,260.50 528.67,260.54 530.34,260.58 C532.02,260.62 533.70,260.65 535.38,260.69 C537.06,260.73 538.74,260.76 540.42,260.80 C542.10,260.83 543.78,260.87 545.45,260.91 C547.13,260.94 548.81,260.98 550.49,261.01 C552.17,261.04 553.85,261.08 555.53,261.11 C557.21,261.14 558.89,261.17 560.56,261.21 C562.24,261.24 563.92,261.27 565.60,261.30 C567.28,261.33 568.96,261.36 570.64,261.39 C572.32,261.42 574.00,261.44 575.68,261.47 C577.35,261.50 579.03,261.53 580.71,261.55 C582.39,261.58 584.07,261.60 585.75,261.63 C587.43,261.65 589.11,261.67 590.79,261.70 C592.46,261.72 594.14,261.74 595.82,261.76 C597.50,261.78 599.18,261.80 600.86,261.82 C602.54,261.84 604.22,261.85 605.90,261.87 C607.57,261.89 609.25,261.90 610.93,261.91 C612.61,261.93 614.29,261.94 615.97,261.95 C617.65,261.97 619.33,261.98 621.01,261.99 C622.68,261.99 624.36,262.00 626.04,262.01 C627.72,262.02 629.40,262.02 631.08,262.03 C632.76,262.03 634.44,262.03 636.12,262.04 C637.80,262.04 639.47,262.04 641.15,262.04 C642.83,262.04 644.51,262.03 646.19,262.03 C647.87,262.03 649.55,262.02 651.23,262.01 C652.91,262.01 654.58,262.00 656.26,261.99 C657.94,261.98 660.46,261.96 661.30,261.95" stroke="#fdcc42" stroke-width="1.2" fill="none" stroke-linecap="butt" stroke-linejoin="round"/><path d="M72.00,261.95 C72.84,261.94 75.36,261.93 77.04,261.92 C78.72,261.91 80.39,261.89 82.07,261.88 C83.75,261.86 85.43,261.85 87.11,261.83 C88.79,261.81 90.47,261.79 92.15,261.77 C93.83,261.74 95.50,261.72 97.18,261.69 C98.86,261.66 100.54,261.63 102.22,261.60 C103.90,261.57 105.58,261.54 107.26,261.50 C108.94,261.47 110.62,261.43 112.29,261.39 C113.97,261.35 115.65,261.31 117.33,261.26 C119.01,261.22 120.69,261.17 122.37,261.12 C124.05,261.07 125.73,261.01 127.40,260.96 C129.08,260.90 130.76,260.84 132.44,260.78 C134.12,260.72 135.80,260.66 137.48,260.59 C139.16,260.53 140.84,260.46 142.51,260.38 C144.19,260.31 145.87,260.24 147.55,260.16 C149.23,260.08 150.91,260.00 152.59,259.91 C154.27,259.83 155.95,259.74 157.62,259.65 C159.30,259.56 160.98,259.47 162.66,259.37 C164.34,259.27 166.02,259.17 167.70,259.07 C169.38,258.96 171.06,258.86 172.74,258.75 C174.41,258.64 176.09,258.52 177.77,258.40 C179.45,258.29 181.13,258.16 182.81,258.04 C184.49,257.91 186.17,257.78 187.85,257.65 C189.52,257.52 191.20,257.38 192.88,257.24 C194.56,257.10 196.24,256.96 197.92,256.81 C199.60,256.67 201.28,256.52 202.96,256.36 C204.63,256.21 206.31,256.05 207.99,255.90 C209.67,255.74 211.35,255.58 213.03,255.41 C214.71,255.25 216.39,255.09 218.07,254.92 C219.74,254.75 221.42,254.58 223.10,254.41 C224.78,254.24 226.46,254.07 228.14,253.90 C229.82,253.73 231.50,253.55 233.18,253.38 C234.85,253.21 236.53,253.03 238.21,252.86 C239.89,252.68 241.57,252.51 243.25,252.33 C244.93,252.16 246.61,251.98 248.29,251.81 C249.97,251.63 251.64,251.46 253.32,251.29 C255.00,251.11 256.68,250.94 258.36,250.77 C260.04,250.60 261.72,250.43 263.40,250.26 C265.08,250.09 266.75,249.92 268.43,249.76 C270.11,249.59 271.79,249.43 273.47,249.27 C275.15,249.11 276.83,248.95 278.51,248.80 C280.19,248.64 281.86,248.49 283.54,248.34 C285.22,248.19 286.90,248.05 288.58,247.91 C290.26,247.77 291.94,247.63 293.62,247.50 C295.30,247.37 296.97,247.25 298.65,247.13 C300.33,247.01 302.01,246.89 303.69,246.78 C305.37,246.68 307.05,246.58 308.73,246.48 C310.41,246.39 312.09,246.30 313.76,246.22 C315.44,246.14 317.12,246.07 318.80,246.00 C320.48,245.94 322.16,245.88 323.84,245.84 C325.52,245.79 327.20,245.75 328.87,245.71 C330.55,245.68 332.23,245.65 333.91,245.63 C335.59,245.61 337.27,245.59 338.95,245.58 C340.63,245.57 342.31,245.56 343.98,245.56 C345.66,245.55 347.34,245.55 349.02,245.55 C350.70,245.55 352.38,245.56 354.06,245.56 C355.74,245.57 357.42,245.58 359.09,245.58 C360.77,245.59 362.45,245.59 364.13,245.60 C365.81,245.60 367.49,245.61 369.17,245.61 C370.85,245.61 372.53,245.62 374.21,245.62 C375.88,245.61 377.56,245.61 379.24,245.60 C380.92,245.60 382.60,245.59 384.28,245.57 C385.96,245.55 387.64,245.54 389.32,245.51 C390.99,245.49 392.67,245.46 394.35,245.42 C396.03,245.38 397.71,245.34 399.39,245.29 C401.07,245.24 402.75,245.19 404.43,245.12 C406.10,245.06 407.78,244.99 409.46,244.91 C411.14,244.83 412.82,244.74 414.50,244.64 C416.18,244.54 417.86,244.43 419.54,244.32 C421.21,244.20 422.89,244.08 424.57,243.94 C426.25,243.81 427.93,243.67 429.61,243.52 C431.29,243.37 432.97,243.21 434.65,243.05 C436.33,242.88 438.00,242.71 439.68,242.52 C441.36,242.34 443.04,242.15 444.72,241.96 C446.40,241.76 448.08,241.55 449.76,241.34 C451.44,241.13 453.11,240.91 454.79,240.68 C456.47,240.45 458.15,240.21 459.83,239.97 C461.51,239.73 463.19,239.48 464.87,239.22 C466.55,238.96 468.22,238.70 469.90,238.43 C471.58,238.16 473.26,237.88 474.94,237.59 C476.62,237.31 478.30,237.02 479.98,236.72 C481.66,236.42 483.33,236.11 485.01,235.80 C486.69,235.49 488.37,235.17 490.05,234.85 C491.73,234.52 493.41,234.19 495.09,233.85 C496.77,233.52 498.45,233.17 500.12,232.83 C501.80,232.48 503.48,232.12 505.16,231.76 C506.84,231.40 508.52,231.03 510.20,230.66 C511.88,230.29 513.56,229.91 515.23,229.53 C516.91,229.14 518.59,228.75 520.27,228.36 C521.95,227.96 523.63,227.56 525.31,227.16 C526.99,226.75 528.67,226.34 530.34,225.93 C532.02,225.51 533.70,225.09 535.38,224.67 C537.06,224.24 538.74,223.81 540.42,223.38 C542.10,222.94 543.78,222.50 545.45,222.06 C547.13,221.62 548.81,221.17 550.49,220.72 C552.17,220.26 553.85,219.81 555.53,219.34 C557.21,218.88 558.89,218.42 560.56,217.95 C562.24,217.48 563.92,217.00 565.60,216.53 C567.28,216.05 568.96,215.57 570.64,215.08 C572.32,214.60 574.00,214.11 575.68,213.62 C577.35,213.12 579.03,212.63 580.71,212.13 C582.39,211.63 584.07,211.13 585.75,210.62 C587.43,210.12 589.11,209.61 590.79,209.09 C592.46,208.58 594.14,208.07 595.82,207.55 C597.50,207.03 599.18,206.51 600.86,205.98 C602.54,205.46 604.22,204.93 605.90,204.40 C607.57,203.88 609.25,203.34 610.93,202.81 C612.61,202.27 614.29,201.74 615.97,201.20 C617.65,200.66 619.33,200.12 621.01,199.58 C622.68,199.03 624.36,198.49 626.04,197.94 C627.72,197.39 629.40,196.84 631.08,196.29 C632.76,195.74 634.44,195.19 636.12,194.63 C637.80,194.08 639.47,193.52 641.15,192.97 C642.83,192.41 644.51,191.85 646.19,191.29 C647.87,190.73 649.55,190.17 651.23,189.60 C652.91,189.04 654.58,188.48 656.26,187.91 C657.94,187.35 660.46,186.50 661.30,186.22" stroke="#38c75a" stroke-width="1.2" fill="none" stroke-linecap="butt" stroke-linejoin="round"/><path d="M72.00,257.62 C72.84,257.62 75.36,257.63 77.04,257.60 C78.72,257.58 80.39,257.54 82.07,257.48 C83.75,257.42 85.43,257.35 87.11,257.26 C88.79,257.18 90.47,257.07 92.15,256.97 C93.83,256.86 95.50,256.73 97.18,256.61 C98.86,256.48 100.54,256.34 102.22,256.20 C103.90,256.06 105.58,255.91 107.26,255.76 C108.94,255.61 110.62,255.46 112.29,255.31 C113.97,255.15 115.65,255.00 117.33,254.85 C119.01,254.70 120.69,254.54 122.37,254.40 C124.05,254.26 125.73,254.11 127.40,253.98 C129.08,253.85 130.76,253.72 132.44,253.60 C134.12,253.49 135.80,253.38 137.48,253.28 C139.16,253.19 140.84,253.10 142.51,253.04 C144.19,252.97 145.87,252.91 147.55,252.88 C149.23,252.84 150.91,252.82 152.59,252.82 C154.27,252.82 155.95,252.84 157.62,252.88 C159.30,252.92 160.98,252.98 162.66,253.07 C164.34,253.16 166.02,253.27 167.70,253.41 C169.38,253.55 171.06,253.72 172.74,253.91 C174.41,254.11 176.09,254.34 177.77,254.59 C179.45,254.85 181.13,255.14 182.81,255.47 C184.49,255.79 186.17,256.15 187.85,256.55 C189.52,256.94 191.20,257.37 192.88,257.84 C194.56,258.30 196.24,258.81 197.92,259.34 C199.60,259.88 201.28,260.45 202.96,261.05 C204.63,261.65 206.31,262.29 207.99,262.96 C209.67,263.63 211.35,264.34 213.03,265.08 C214.71,265.82 216.39,266.59 218.07,267.39 C219.74,268.19 221.42,269.03 223.10,269.90 C224.78,270.77 226.46,271.67 228.14,272.60 C229.82,273.53 231.50,274.50 233.18,275.49 C234.85,276.49 236.53,277.52 238.21,278.57 C239.89,279.62 241.57,280.70 243.25,281.79 C244.93,282.88 246.61,284.00 248.29,285.10 C249.97,286.21 251.64,287.33 253.32,288.44 C255.00,289.54 256.68,290.66 258.36,291.74 C260.04,292.82 261.72,293.90 263.40,294.94 C265.08,295.99 266.75,297.01 268.43,297.99 C270.11,298.97 271.79,299.92 273.47,300.81 C275.15,301.70 276.83,302.56 278.51,303.34 C280.19,304.13 281.86,304.86 283.54,305.53 C285.22,306.21 286.90,306.81 288.58,307.39 C290.26,307.96 291.94,308.47 293.62,308.96 C295.30,309.45 296.97,309.89 298.65,310.31 C300.33,310.74 302.01,311.13 303.69,311.49 C305.37,311.86 307.05,312.20 308.73,312.52 C310.41,312.84 312.09,313.13 313.76,313.39 C315.44,313.66 317.12,313.90 318.80,314.12 C320.48,314.34 322.16,314.53 323.84,314.70 C325.52,314.88 327.20,315.02 328.87,315.15 C330.55,315.27 332.23,315.37 333.91,315.45 C335.59,315.53 337.27,315.59 338.95,315.62 C340.63,315.66 342.31,315.67 343.98,315.66 C345.66,315.65 347.34,315.62 349.02,315.57 C350.70,315.51 352.38,315.44 354.06,315.35 C355.74,315.25 357.42,315.14 359.09,315.01 C360.77,314.87 362.45,314.72 364.13,314.55 C365.81,314.37 367.49,314.18 369.17,313.97 C370.85,313.76 372.53,313.52 374.21,313.28 C375.88,313.03 377.56,312.77 379.24,312.50 C380.92,312.22 382.60,311.94 384.28,311.65 C385.96,311.36 387.64,311.06 389.32,310.76 C390.99,310.46 392.67,310.15 394.35,309.85 C396.03,309.55 397.71,309.24 399.39,308.95 C401.07,308.66 402.75,308.37 404.43,308.08 C406.10,307.79 407.78,307.51 409.46,307.22 C411.14,306.93 412.82,306.63 414.50,306.33 C416.18,306.02 417.86,305.71 419.54,305.38 C421.21,305.05 422.89,304.71 424.57,304.35 C426.25,303.98 427.93,303.60 429.61,303.19 C431.29,302.77 432.97,302.34 434.65,301.87 C436.33,301.40 438.00,300.90 439.68,300.36 C441.36,299.82 443.04,299.24 444.72,298.64 C446.40,298.03 448.08,297.38 449.76,296.72 C451.44,296.05 453.11,295.35 454.79,294.63 C456.47,293.91 458.15,293.16 459.83,292.40 C461.51,291.64 463.19,290.85 464.87,290.06 C466.55,289.27 468.22,288.45 469.90,287.64 C471.58,286.83 473.26,286.00 474.94,285.17 C476.62,284.34 478.30,283.51 479.98,282.68 C481.66,281.85 483.33,281.02 485.01,280.20 C486.69,279.38 488.37,278.56 490.05,277.75 C491.73,276.95 493.41,276.15 495.09,275.38 C496.77,274.60 498.45,273.84 500.12,273.10 C501.80,272.36 503.48,271.63 505.16,270.94 C506.84,270.25 508.52,269.58 510.20,268.94 C511.88,268.31 513.56,267.70 515.23,267.13 C516.91,266.55 518.59,266.00 520.27,265.48 C521.95,264.96 523.63,264.47 525.31,264.01 C526.99,263.54 528.67,263.11 530.34,262.70 C532.02,262.29 533.70,261.90 535.38,261.54 C537.06,261.18 538.74,260.85 540.42,260.53 C542.10,260.22 543.78,259.93 545.45,259.67 C547.13,259.40 548.81,259.16 550.49,258.94 C552.17,258.71 553.85,258.51 555.53,258.33 C557.21,258.15 558.89,257.99 560.56,257.85 C562.24,257.70 563.92,257.58 565.60,257.47 C567.28,257.37 568.96,257.28 570.64,257.21 C572.32,257.13 574.00,257.08 575.68,257.04 C577.35,257.00 579.03,256.97 580.71,256.96 C582.39,256.95 584.07,256.95 585.75,256.97 C587.43,256.98 589.11,257.01 590.79,257.05 C592.46,257.09 594.14,257.14 595.82,257.20 C597.50,257.27 599.18,257.34 600.86,257.42 C602.54,257.50 604.22,257.59 605.90,257.69 C607.57,257.79 609.25,257.90 610.93,258.01 C612.61,258.13 614.29,258.25 615.97,258.38 C617.65,258.50 619.33,258.64 621.01,258.78 C622.68,258.91 624.36,259.06 626.04,259.20 C627.72,259.35 629.40,259.49 631.08,259.65 C632.76,259.80 634.44,259.95 636.12,260.10 C637.80,260.26 639.47,260.41 641.15,260.57 C642.83,260.72 644.51,260.88 646.19,261.03 C647.87,261.18 649.55,261.34 651.23,261.49 C652.91,261.64 654.58,261.78 656.26,261.93 C657.94,262.07 660.46,262.27 661.30,262.34" stroke="#3846f0" stroke-width="1.2" fill="none" stroke-linecap="butt" stroke-linejoin="round"/></g>
</svg>
<div class="cb" style="left:49.2px;top:367.0px"><svg width="10" height="10" viewBox="0 0 10 10"><rect x="0" y="0" width="10" height="10" rx="2" fill="#3b4bf0"/><path d="M2.4 5.2 L4.2 7 L7.7 3.1" stroke="#fff" stroke-width="1.5" fill="none" stroke-linecap="round" stroke-linejoin="round"/></svg></div><div class="lt" style="left:64.8px;top:366.7px">All charts</div><div class="cb" style="left:174.3px;top:367.0px"><svg width="10" height="10" viewBox="0 0 10 10"><rect x="0" y="0" width="10" height="10" rx="2" fill="#3b4bf0"/><path d="M2.4 5.2 L4.2 7 L7.7 3.1" stroke="#fff" stroke-width="1.5" fill="none" stroke-linecap="round" stroke-linejoin="round"/></svg></div><div class="lt" style="left:189.9px;top:366.7px">Brand Awareness</div><div class="cb" style="left:174.3px;top:384.3px"><svg width="10" height="10" viewBox="0 0 10 10"><rect x="0" y="0" width="10" height="10" rx="2" fill="#3b4bf0"/><path d="M2.4 5.2 L4.2 7 L7.7 3.1" stroke="#fff" stroke-width="1.5" fill="none" stroke-linecap="round" stroke-linejoin="round"/></svg></div><div class="lt" style="left:189.9px;top:384.0px">Lead Generation</div><div class="cb" style="left:299.4px;top:367.0px"><svg width="10" height="10" viewBox="0 0 10 10"><rect x="0" y="0" width="10" height="10" rx="2" fill="#3b4bf0"/><path d="M2.4 5.2 L4.2 7 L7.7 3.1" stroke="#fff" stroke-width="1.5" fill="none" stroke-linecap="round" stroke-linejoin="round"/></svg></div><div class="lt" style="left:315.0px;top:366.7px">Traffic</div><div class="cb" style="left:299.4px;top:384.3px"><svg width="10" height="10" viewBox="0 0 10 10"><rect x="0" y="0" width="10" height="10" rx="2" fill="#3b4bf0"/><path d="M2.4 5.2 L4.2 7 L7.7 3.1" stroke="#fff" stroke-width="1.5" fill="none" stroke-linecap="round" stroke-linejoin="round"/></svg></div><div class="lt" style="left:315.0px;top:384.0px">Conversions</div><div class="cb" style="left:424.5px;top:367.0px"><svg width="10" height="10" viewBox="0 0 10 10"><rect x="0" y="0" width="10" height="10" rx="2" fill="#3b4bf0"/><path d="M2.4 5.2 L4.2 7 L7.7 3.1" stroke="#fff" stroke-width="1.5" fill="none" stroke-linecap="round" stroke-linejoin="round"/></svg></div><div class="lt" style="left:440.1px;top:366.7px">App Installs</div><div class="cb" style="left:424.5px;top:384.3px"><svg width="10" height="10" viewBox="0 0 10 10"><rect x="0" y="0" width="10" height="10" rx="2" fill="#3b4bf0"/><path d="M2.4 5.2 L4.2 7 L7.7 3.1" stroke="#fff" stroke-width="1.5" fill="none" stroke-linecap="round" stroke-linejoin="round"/></svg></div><div class="lt" style="left:440.1px;top:384.0px">Catalog sales</div><div class="cb" style="left:549.6px;top:367.0px"><svg width="10" height="10" viewBox="0 0 10 10"><rect x="0" y="0" width="10" height="10" rx="2" fill="#3b4bf0"/><path d="M2.4 5.2 L4.2 7 L7.7 3.1" stroke="#fff" stroke-width="1.5" fill="none" stroke-linecap="round" stroke-linejoin="round"/></svg></div><div class="lt" style="left:565.2px;top:366.7px">Video Views</div>
</body></html>
